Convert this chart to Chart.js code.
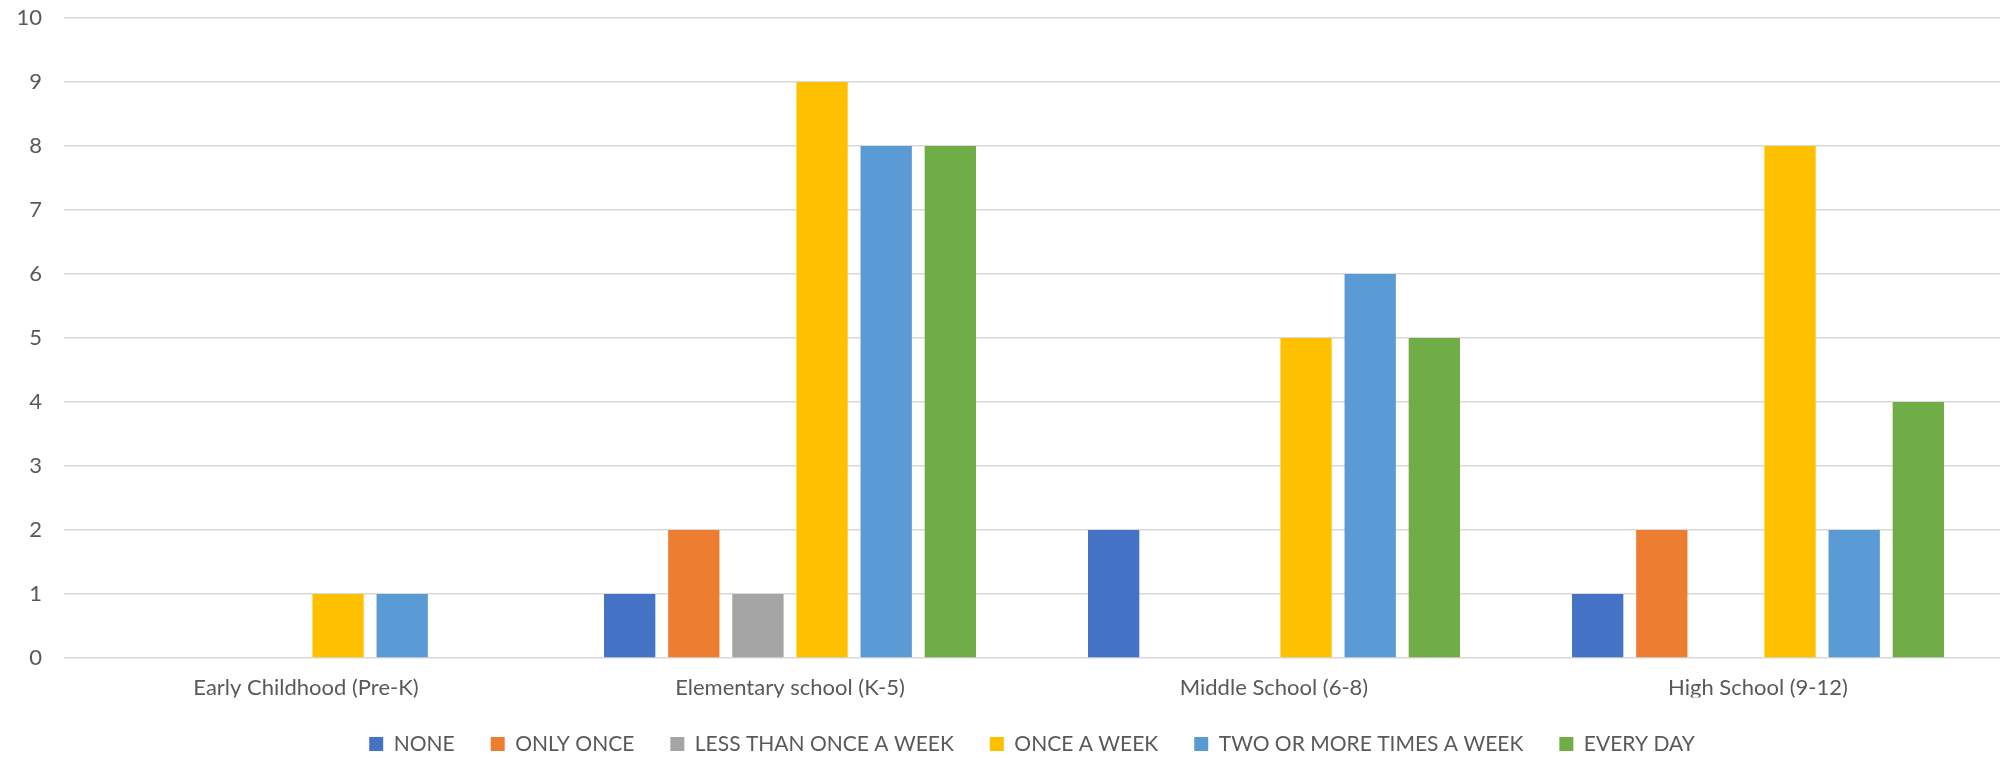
<!DOCTYPE html>
<html>
<head>
<meta charset="utf-8">
<script src="https://cdn.jsdelivr.net/npm/chart.js@4.4.1/dist/chart.umd.min.js"></script>
<style>
  html, body { margin:0; padding:0; background:#fff; }
  #wrap { width:2000px; height:758px; position:relative; }
</style>
</head>
<body>
<div id="wrap"><canvas id="chart"></canvas></div>
<script>
const categories = ['Early Childhood (Pre-K)', 'Elementary school (K-5)', 'Middle School (6-8)', 'High School (9-12)'];
const seriesNames = ['NONE', 'ONLY ONCE', 'LESS THAN ONCE A WEEK', 'ONCE A WEEK', 'TWO OR MORE TIMES A WEEK', 'EVERY DAY'];
const seriesColors = ['#4472C4', '#ED7D31', '#A5A5A5', '#FFC000', '#5B9BD5', '#70AD47'];
const noneVals      = [0, 1, 2, 1];
const onlyOnceVals  = [0, 2, 0, 2];
const lessWeekVals  = [0, 1, 0, 0];
const onceWeekVals  = [1, 9, 5, 8];
const twoPlusVals   = [1, 8, 6, 2];
const everyDayVals  = [0, 8, 5, 4];
const allVals = [noneVals, onlyOnceVals, lessWeekVals, onceWeekVals, twoPlusVals, everyDayVals];

const FONT = 'Lato, "Liberation Sans", sans-serif';
const TXT = '#595959';

new Chart(document.getElementById('chart'), {
  type: 'bar',
  data: {
    labels: categories,
    datasets: seriesNames.map((n, i) => ({
      label: n,
      data: allVals[i],
      backgroundColor: seriesColors[i],
      borderWidth: 0,
      categoryPercentage: 0.795,
      barPercentage: 0.8
    }))
  },
  options: {
    responsive: true,
    maintainAspectRatio: false,
    devicePixelRatio: 1,
    animation: false,
    layout: { padding: { top: 18, right: 0, left: 0, bottom: 0 } },
    plugins: {
      tooltip: { enabled: false },
      legend: {
        position: 'bottom',
        fullSize: false,
        maxHeight: 60.5,
        labels: {
          font: { family: FONT, size: 21 },
          color: TXT,
          boxWidth: 14,
          boxHeight: 14,
          padding: 36
        }
      }
    },
    scales: {
      x: {
        grid: { display: false, drawTicks: false },
        border: { display: false },
        ticks: { font: { family: FONT, size: 22 }, color: TXT, padding: 17 },
        afterFit: s => { s.height = 39.5; }
      },
      y: {
        min: 0, max: 10,
        ticks: { stepSize: 1, font: { family: FONT, size: 22 }, color: TXT, padding: 22 },
        grid: { color: '#D9D9D9', lineWidth: 1.6, drawTicks: false },
        border: { display: false },
        afterFit: s => { s.width = 64; s.paddingTop = 0; s.paddingBottom = 0; }
      }
    }
  }
});
</script>
</body>
</html>
